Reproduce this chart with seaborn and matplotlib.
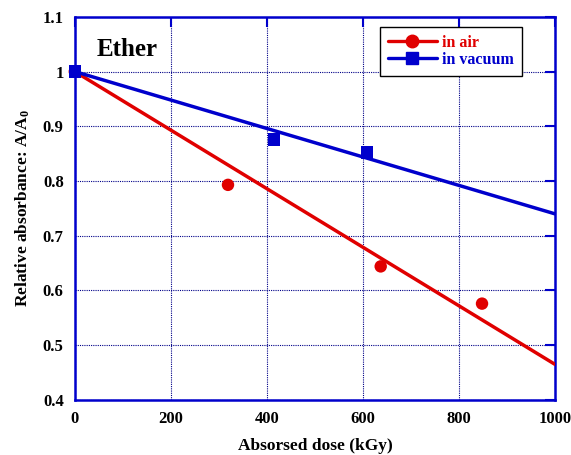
import numpy as np
import pandas as pd
import matplotlib.pyplot as plt
import seaborn as sns
from matplotlib.lines import Line2D

# measured points
air_dose = [0, 319, 637, 848]
air_abs = [1.0, 0.793, 0.644, 0.576]
vac_dose = [0, 415, 608]
vac_abs = [1.0, 0.876, 0.852]

# fitted lines (end points)
fit_dose = [0, 1000]
air_fit = [1.0, 0.465]
vac_fit = [1.0, 0.740]

red = '#e00000'
blue = '#0000cc'

sns.set_style('white')
plt.rcParams['font.family'] = ['Liberation Serif', 'DejaVu Serif']
plt.rcParams['font.weight'] = 'bold'
plt.rcParams['text.color'] = 'black'
plt.rcParams['axes.labelcolor'] = 'black'
plt.rcParams['xtick.labelcolor'] = 'black'
plt.rcParams['ytick.labelcolor'] = 'black'
plt.rcParams['mathtext.fontset'] = 'custom'
plt.rcParams['mathtext.rm'] = 'Liberation Serif:bold'
plt.rcParams['mathtext.bf'] = 'Liberation Serif:bold'
plt.rcParams['mathtext.default'] = 'bf'

fig = plt.figure(figsize=(5.71, 4.55), dpi=100)
ax = fig.add_axes([0.131, 0.121, 0.841, 0.842])

sns.lineplot(x=fit_dose, y=air_fit, color=red, lw=2.5, ax=ax, zorder=3)
sns.lineplot(x=fit_dose, y=vac_fit, color=blue, lw=2.5, ax=ax, zorder=3)
sns.scatterplot(x=air_dose, y=air_abs, color=red, marker='o', s=80, edgecolor='none', ax=ax, zorder=4, clip_on=False)
sns.scatterplot(x=vac_dose, y=vac_abs, color=blue, marker='s', s=80, edgecolor='none', ax=ax, zorder=4, clip_on=False)

ax.set_xlim(0, 1000)
ax.set_ylim(0.4, 1.1)
ax.set_xticks([0, 200, 400, 600, 800, 1000])
ax.set_yticks(np.arange(0.4, 1.11, 0.1))
ax.set_yticklabels(['0.4', '0.5', '0.6', '0.7', '0.8', '0.9', '1', '1.1'])
ax.grid(True, color='#000088', linestyle=(0, (1, 1)), linewidth=0.8)
for sp in ax.spines.values():
    sp.set_color(blue)
    sp.set_linewidth(1.8)
ax.tick_params(direction='in', length=7, width=1.5, color=blue, top=True, right=True,
               labelsize=12, pad=8)
for lab in ax.get_xticklabels() + ax.get_yticklabels():
    lab.set_fontweight('bold')

ax.set_xlabel('Absorsed dose (kGy)', fontsize=12.5, fontweight='bold', labelpad=8)
ax.set_ylabel('Relative absorbance: A/A$_0$', fontsize=12.5, fontweight='bold', labelpad=8)

ax.text(0.045, 0.915, 'Ether', transform=ax.transAxes, fontsize=18, fontweight='bold', va='center')

handles = [Line2D([], [], color=red, lw=2.4, marker='o', ms=9),
           Line2D([], [], color=blue, lw=2.4, marker='s', ms=9)]
leg = ax.legend(handles, ['in air', 'in vacuum'], loc='upper right', bbox_to_anchor=(0.931, 0.974),
                borderaxespad=0, frameon=True, fancybox=False, framealpha=1, edgecolor='black',
                handlelength=3.1, borderpad=0.5, labelspacing=0.05, handletextpad=0.3,
                prop={'weight': 'bold', 'size': 11.5})
leg.get_frame().set_linewidth(1.0)
for t, c in zip(leg.get_texts(), [red, blue]):
    t.set_color(c)

fig.savefig('out.png', dpi=100)
